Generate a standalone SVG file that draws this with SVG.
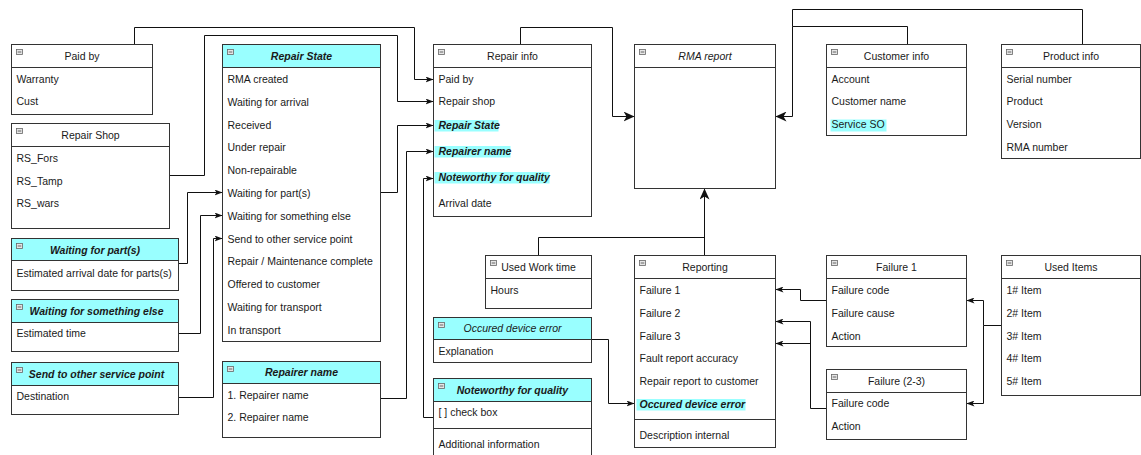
<svg xmlns="http://www.w3.org/2000/svg" width="1141" height="455" viewBox="0 0 1141 455">
<style>
text{font-family:"Liberation Sans",Arial,sans-serif;font-size:10.5px;fill:#1a1a1a}
.t{text-anchor:middle}
.bi{font-weight:bold;font-style:italic}
.i{font-style:italic}
.box{fill:#fff;stroke:#333;stroke-width:1}
.hd{fill:#99ffff;stroke:none}
.ln{stroke:#333;stroke-width:1;fill:none}
.hl{fill:#99ffff;stroke:none}
.ic{fill:#e6e6e6;stroke:#666;stroke-width:0.8}
.icm{stroke:#444;stroke-width:0.8}
.c{fill:none;stroke:#111;stroke-width:1}
.ca{fill:none;stroke:#111;stroke-width:1;marker-end:url(#sa)}
.cb{fill:none;stroke:#111;stroke-width:1;marker-end:url(#ba)}
</style>
<defs>
<marker id="sa" markerUnits="userSpaceOnUse" viewBox="0 0 8 6" refX="8" refY="3" markerWidth="8" markerHeight="6" orient="auto"><path d="M0,0 L8,3 L0,6 L2,3 z" fill="#111"/></marker>
<marker id="ba" markerUnits="userSpaceOnUse" viewBox="0 0 11 10" refX="11" refY="5" markerWidth="11" markerHeight="10" orient="auto"><path d="M0,0 L11,5 L0,10 L3,5 z" fill="#111"/></marker>
<g id="icon"><rect class="ic" x="0" y="0" width="6" height="5"/><line class="icm" x1="1.2" y1="2.5" x2="4.8" y2="2.5"/></g>
</defs>
<rect width="1141" height="455" fill="#fff"/>
<g transform="translate(0.5,0.5)">
<g id="connectors">
<path class="ca" d="M134,44 V27 H414 V79 H433"/>
<path class="ca" d="M169,175 H204 V35 H397 V101 H433"/>
<path class="ca" d="M380,192 H397 V125 H433"/>
<path class="ca" d="M380,398 H406 V151 H433"/>
<path class="ca" d="M433,417 H423 V178 H433"/>
<path class="ca" d="M178,263 H187 V192 H222"/>
<path class="ca" d="M178,333 H200 V215 H222"/>
<path class="ca" d="M178,397 H213 V238 H222"/>
<path class="cb" d="M520,44 V27 H612 V116 H634"/>
<path class="cb" d="M704,255 V188"/>
<path class="c" d="M538,255 V237 H704"/>
<path class="cb" d="M907,44 V26 H792 V116 H775"/>
<path class="c" d="M1082,44 V9 H792 V26"/>
<path class="ca" d="M826,300 H800 V289 H775"/>
<path class="ca" d="M826,408 H810 V321 H775"/>
<path class="ca" d="M810,343 H775"/>
<path class="ca" d="M1001,325 H983 V300 H966"/>
<path class="ca" d="M983,325 V403 H966"/>
<path class="ca" d="M591,339 H608 V403 H634"/>
</g>

<g id="paid-by">
<rect class="box" x="11" y="44" width="141" height="70"/>
<line class="ln" x1="11" y1="67" x2="152" y2="67"/>
<use href="#icon" x="16" y="49"/>
<text class="t" x="81.5" y="59.3">Paid by</text>
<text x="16" y="82.8">Warranty</text>
<text x="16" y="104.8">Cust</text>
</g>

<g id="repair-shop">
<rect class="box" x="11" y="123" width="158" height="105"/>
<line class="ln" x1="11" y1="146" x2="169" y2="146"/>
<use href="#icon" x="16" y="128"/>
<text class="t" x="90" y="138.3">Repair Shop</text>
<text x="16" y="161.8">RS_Fors</text>
<text x="16" y="184.8">RS_Tamp</text>
<text x="16" y="206.8">RS_wars</text>
</g>

<g id="waiting-parts">
<rect class="box" x="11" y="238" width="167" height="52"/>
<rect class="hd" x="11.5" y="238.5" width="166" height="22"/>
<rect class="box" x="11" y="238" width="167" height="52" style="fill:none"/>
<line class="ln" x1="11" y1="260" x2="178" y2="260"/>
<use href="#icon" x="16" y="243"/>
<text class="t bi" x="94.5" y="253">Waiting for part(s)</text>
<text x="16" y="276.8">Estimated arrival date for parts(s)</text>
</g>

<g id="waiting-else">
<rect class="box" x="11" y="299" width="167" height="52"/>
<rect class="hd" x="11.5" y="299.5" width="166" height="22.5"/>
<rect class="box" x="11" y="299" width="167" height="52" style="fill:none"/>
<line class="ln" x1="11" y1="322" x2="178" y2="322"/>
<use href="#icon" x="16" y="304"/>
<text class="t bi" x="96" y="314.5">Waiting for something else</text>
<text x="16" y="336.8">Estimated time</text>
</g>

<g id="send-other">
<rect class="box" x="11" y="362" width="167" height="52"/>
<rect class="hd" x="11.5" y="362.5" width="166" height="22.5"/>
<rect class="box" x="11" y="362" width="167" height="52" style="fill:none"/>
<line class="ln" x1="11" y1="385" x2="178" y2="385"/>
<use href="#icon" x="16" y="367"/>
<text class="t bi" x="96" y="377.5">Send to other service point</text>
<text x="16" y="399.8">Destination</text>
</g>

<g id="repair-state">
<rect class="box" x="222" y="44" width="158" height="297"/>
<rect class="hd" x="222.5" y="44.5" width="157" height="22.5"/>
<rect class="box" x="222" y="44" width="158" height="297" style="fill:none"/>
<line class="ln" x1="222" y1="67" x2="380" y2="67"/>
<use href="#icon" x="227" y="49"/>
<text class="t bi" x="301" y="59.3">Repair State</text>
<text x="227" y="82.5">RMA created</text>
<text x="227" y="105.3">Waiting for arrival</text>
<text x="227" y="128.1">Received</text>
<text x="227" y="150.9">Under repair</text>
<text x="227" y="173.7">Non-repairable</text>
<text x="227" y="196.5">Waiting for part(s)</text>
<text x="227" y="219.3">Waiting for something else</text>
<text x="227" y="242.1">Send to other service point</text>
<text x="227" y="264.9">Repair / Maintenance complete</text>
<text x="227" y="287.7">Offered to customer</text>
<text x="227" y="310.5">Waiting for transport</text>
<text x="227" y="333.3">In transport</text>
</g>

<g id="repairer-name">
<rect class="box" x="222" y="361" width="158" height="76"/>
<rect class="hd" x="222.5" y="361.5" width="157" height="21.5"/>
<rect class="box" x="222" y="361" width="158" height="76" style="fill:none"/>
<line class="ln" x1="222" y1="383" x2="380" y2="383"/>
<use href="#icon" x="227" y="366"/>
<text class="t bi" x="301" y="375.8">Repairer name</text>
<text x="227" y="398.3">1. Repairer name</text>
<text x="227" y="420.8">2. Repairer name</text>
</g>

<g id="repair-info">
<rect class="box" x="433" y="44" width="158" height="172"/>
<line class="ln" x1="433" y1="67" x2="591" y2="67"/>
<use href="#icon" x="438" y="49"/>
<text class="t" x="512" y="59.3">Repair info</text>
<text x="438" y="82.8">Paid by</text>
<text x="438" y="104.8">Repair shop</text>
<rect class="hl" x="434" y="119.5" width="64" height="11.5"/>
<text class="bi" x="438" y="128.8">Repair State</text>
<rect class="hl" x="434" y="145.5" width="76" height="11.5"/>
<text class="bi" x="438" y="154.8">Repairer name</text>
<rect class="hl" x="434" y="171.5" width="115" height="11.5"/>
<text class="bi" x="438" y="180.8">Noteworthy for quality</text>
<text x="438" y="206.8">Arrival date</text>
</g>

<g id="rma-report">
<rect class="box" x="634" y="44" width="141" height="144"/>
<line class="ln" x1="634" y1="67" x2="775" y2="67"/>
<use href="#icon" x="639" y="49"/>
<text class="t i" x="704.5" y="59.3">RMA report</text>
</g>

<g id="customer-info">
<rect class="box" x="826" y="44" width="140" height="91"/>
<line class="ln" x1="826" y1="67" x2="966" y2="67"/>
<use href="#icon" x="831" y="49"/>
<text class="t" x="896" y="59.3">Customer info</text>
<text x="831" y="82.8">Account</text>
<text x="831" y="104.8">Customer name</text>
<rect class="hl" x="830" y="119" width="56" height="12"/>
<text x="831" y="127.8">Service SO</text>
</g>

<g id="product-info">
<rect class="box" x="1001" y="44" width="139" height="114"/>
<line class="ln" x1="1001" y1="67" x2="1140" y2="67"/>
<use href="#icon" x="1006" y="49"/>
<text class="t" x="1070.5" y="59.3">Product info</text>
<text x="1006" y="82.8">Serial number</text>
<text x="1006" y="104.8">Product</text>
<text x="1006" y="127.8">Version</text>
<text x="1006" y="150.8">RMA number</text>
</g>

<g id="used-work-time">
<rect class="box" x="485" y="255" width="106" height="53"/>
<line class="ln" x1="485" y1="278" x2="591" y2="278"/>
<use href="#icon" x="490" y="260"/>
<text class="t" x="538" y="270.3">Used Work time</text>
<text x="490" y="293.5">Hours</text>
</g>

<g id="occured-device-error">
<rect class="box" x="433" y="317" width="158" height="45"/>
<rect class="hd" x="433.5" y="317.5" width="157" height="21.5"/>
<rect class="box" x="433" y="317" width="158" height="45" style="fill:none"/>
<line class="ln" x1="433" y1="339" x2="591" y2="339"/>
<use href="#icon" x="438" y="322"/>
<text class="t i" x="512" y="331.8">Occured device error</text>
<text x="438" y="354.8">Explanation</text>
</g>

<g id="noteworthy-quality">
<rect class="box" x="433" y="378" width="158" height="90"/>
<rect class="hd" x="433.5" y="378.5" width="157" height="22.5"/>
<rect class="box" x="433" y="378" width="158" height="90" style="fill:none"/>
<line class="ln" x1="433" y1="401" x2="591" y2="401"/>
<line class="ln" x1="433" y1="428" x2="591" y2="428"/>
<use href="#icon" x="438" y="383"/>
<text class="t bi" x="512" y="393.3">Noteworthy for quality</text>
<text x="438" y="415.8">[ ] check box</text>
<text x="438" y="447.8">Additional information</text>
</g>

<g id="reporting">
<rect class="box" x="634" y="255" width="141" height="192"/>
<line class="ln" x1="634" y1="278" x2="775" y2="278"/>
<line class="ln" x1="634" y1="419" x2="775" y2="419"/>
<use href="#icon" x="639" y="260"/>
<text class="t" x="704.5" y="270.3">Reporting</text>
<text x="639" y="293.5">Failure 1</text>
<text x="639" y="316.3">Failure 2</text>
<text x="639" y="339.1">Failure 3</text>
<text x="639" y="361.9">Fault report accuracy</text>
<text x="639" y="384.7">Repair report to customer</text>
<rect class="hl" x="636" y="398.5" width="109" height="11.5"/>
<text class="bi" x="639" y="407.5">Occured device error</text>
<text x="639" y="438.8">Description internal</text>
</g>

<g id="failure-1">
<rect class="box" x="826" y="255" width="140" height="91"/>
<line class="ln" x1="826" y1="278" x2="966" y2="278"/>
<use href="#icon" x="831" y="260"/>
<text class="t" x="896" y="270.3">Failure 1</text>
<text x="831" y="293.5">Failure code</text>
<text x="831" y="316.3">Failure cause</text>
<text x="831" y="339.1">Action</text>
</g>

<g id="failure-2-3">
<rect class="box" x="826" y="369" width="140" height="70"/>
<line class="ln" x1="826" y1="392" x2="966" y2="392"/>
<use href="#icon" x="831" y="374"/>
<text class="t" x="896" y="384.3">Failure (2-3)</text>
<text x="831" y="406.8">Failure code</text>
<text x="831" y="429.8">Action</text>
</g>

<g id="used-items">
<rect class="box" x="1001" y="255" width="139" height="140"/>
<line class="ln" x1="1001" y1="278" x2="1140" y2="278"/>
<use href="#icon" x="1006" y="260"/>
<text class="t" x="1070.5" y="270.3">Used Items</text>
<text x="1006" y="293.5">1# Item</text>
<text x="1006" y="316.3">2# Item</text>
<text x="1006" y="339.1">3# Item</text>
<text x="1006" y="361.9">4# Item</text>
<text x="1006" y="384.7">5# Item</text>
</g>
</g>
</svg>
